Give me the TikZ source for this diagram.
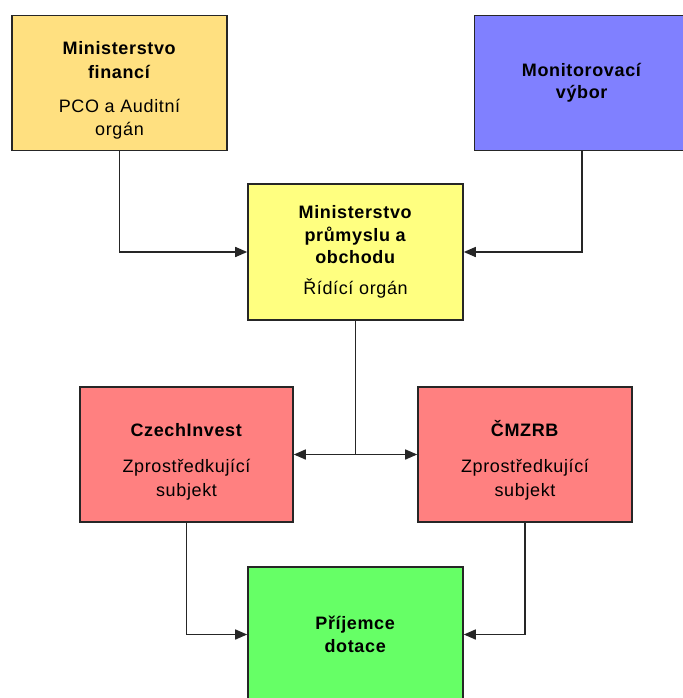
\documentclass[tikz,border=0pt]{standalone}
\usepackage{fontspec}
\setmainfont{Liberation Sans}[LetterSpace=3.5]
\usepackage{tikz}
\usetikzlibrary{arrows.meta, positioning, calc}
\definecolor{mfOrange}{HTML}{FFE080}
\definecolor{mvBlue}{HTML}{8080FF}
\definecolor{mpoYellow}{HTML}{FFFF80}
\definecolor{ziRed}{HTML}{FF8080}
\definecolor{prGreen}{HTML}{66FF66}
\colorlet{edgegray}{black!85}
\newcommand{\topgap}{\rule{0pt}{28pt}}
\begin{document}
\begin{tikzpicture}[x=1pt, y=-1pt,
  orgbox/.style={draw=edgegray, line width=1.6pt, minimum width=215pt, minimum height=135pt,
                 align=center, inner sep=0pt, anchor=center,
                 font=\fontsize{18}{22.5}\selectfont},
  twopart/.style={orgbox, font=\fontsize{18}{23.5}\selectfont},
  link/.style={draw=edgegray, line width=1.5pt},
  arr/.style={link, -{Triangle[length=12pt,width=10pt]}},
]
  \useasboundingbox (0,0) rectangle (682,698);
  \fill[white] (0,0) rectangle (682,698);
  % top row
  \node[twopart, fill=mfOrange] (mf) at (119.5,83) {\topgap\textbf{Ministerstvo}\\\textbf{financí}\\[10.5pt]PCO a Auditní\\orgán};
  \node[orgbox, fill=mvBlue] (mv) at (582,83) {\textbf{Monitorovací}\\\textbf{výbor}};
  % management
  \node[orgbox, fill=mpoYellow, minimum height=136pt] (mpo) at (355.5,252) {\textbf{Ministerstvo}\\\textbf{průmyslu a}\\\textbf{obchodu}\\[8pt]Řídící orgán};
  % intermediate bodies
  \node[twopart, fill=ziRed, minimum width=213pt] (ci) at (186.5,454.5) {\topgap\textbf{CzechInvest}\\[12.5pt]Zprostředkující\\subjekt};
  \node[twopart, fill=ziRed, minimum width=214pt] (cm) at (525,454.5) {\topgap\textbf{ČMZRB}\\[12.5pt]Zprostředkující\\subjekt};
  % beneficiary
  \node[orgbox, fill=prGreen] (pd) at (355.5,634.5) {\textbf{Příjemce}\\\textbf{dotace}};
  % connectors
  \draw[arr] (mf.south) |- (mpo.west);
  \draw[arr] (mv.south) |- (mpo.east);
  \coordinate (jn) at (mpo.south |- ci.east);
  \draw[link] (mpo.south) -- (jn);
  \draw[arr] (jn) -- (ci.east);
  \draw[arr] (jn) -- (cm.west);
  \draw[arr] (ci.south) |- (pd.west);
  \draw[arr] (cm.south) |- (pd.east);
\end{tikzpicture}
\end{document}
